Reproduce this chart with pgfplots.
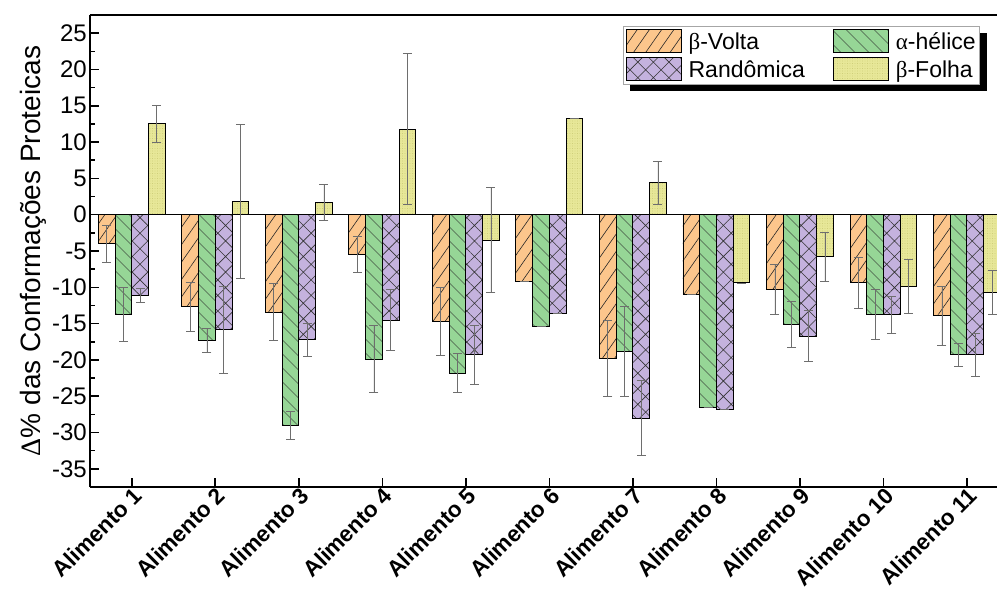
\documentclass[border=0pt]{standalone}
\usepackage{fontspec}
\setmainfont{Liberation Sans}
\newfontfamily\grk{Liberation Serif}
\usepackage{pgfplots}
\pgfplotsset{compat=1.18}
\usepackage{pgfplotstable}
\usetikzlibrary{patterns.meta,backgrounds}

\definecolor{cO}{RGB}{252,198,140}
\definecolor{cG}{RGB}{150,214,150}
\definecolor{cP}{RGB}{196,178,222}
\definecolor{cY}{RGB}{231,231,152}
\definecolor{cYd}{RGB}{195,195,105}
\definecolor{cErr}{RGB}{110,110,110}

\pgfplotstableread{
x y e
1 -4.0 2.6
2 -12.7 3.4
3 -13.4 3.9
4 -5.5 2.5
5 -14.7 4.7
6 -9.2 0
7 -19.8 5.2
8 -11.0 0
9 -10.3 3.4
10 -9.4 3.5
11 -13.9 4.1
}\volta
\pgfplotstableread{
x y e
1 -13.7 3.7
2 -17.3 1.6
3 -29.0 1.9
4 -19.9 4.6
5 -21.8 2.7
6 -15.4 0
7 -18.8 6.2
8 -26.5 0
9 -15.1 3.2
10 -13.7 3.4
11 -19.3 1.6
}\helice
\pgfplotstableread{
x y e
1 -11.1 1.0
2 -15.8 6.0
3 -17.2 2.3
4 -14.5 4.2
5 -19.3 4.1
6 -13.6 0
7 -28.0 5.2
8 -26.8 0
9 -16.7 3.5
10 -13.8 2.6
11 -19.3 3.0
}\rand
\pgfplotstableread{
x y e
1 12.5 2.6
2 1.8 10.6
3 1.7 2.5
4 11.8 10.4
5 -3.5 7.2
6 13.3 0
7 4.4 3.0
8 -9.4 0
9 -5.8 3.4
10 -9.9 3.7
11 -10.7 3.0
}\folha

\begin{document}
\begin{tikzpicture}
\begin{axis}[name=ax,
  scale only axis, width=907pt, height=472pt,
  xmin=0.5, xmax=11.36, ymin=-37.5, ymax=27.5,
  axis x line*=box, axis y line*=left,
  axis line style={line width=1.6pt},
  ybar=0pt, bar width=0.2,
  xtick={1,2,3,4,5,6,7,8,9,10,11},
  xticklabels={Alimento 1,Alimento 2,Alimento 3,Alimento 4,Alimento 5,Alimento 6,Alimento 7,Alimento 8,Alimento 9,Alimento 10,Alimento 11},
  xtick pos=left, ytick pos=left,
  ytick={-35,-30,...,25}, minor y tick num=1,
  tick align=inside,
  major tick length=9pt, minor tick length=5pt,
  every tick/.style={black, line width=1.6pt},
  /pgf/number format/assume math mode=true,
  yticklabel style={font=\fontsize{24}{27}\selectfont, inner xsep=3pt},
  xticklabel style={font=\fontsize{22.5}{25}\selectfont\bfseries, rotate=45, anchor=north east, inner sep=1pt, xshift=2pt, yshift=2pt},
  ylabel={{\grk Δ}\% das Conformações Proteicas},
  ylabel style={font=\fontsize{28}{32}\selectfont, at={(axis description cs:-0.063,0.5)}, anchor=center},
  extra y ticks={0}, extra y tick labels={},
  extra y tick style={grid=major, major grid style={black,line width=1.6pt}, major tick length=0pt},
  legend columns=2,
  legend cell align=left,
  legend image code/.code={\draw[#1] (0pt,-11pt) rectangle (55pt,12pt);},
  legend style={name=leg, at={(axis description cs:0.588,0.977)}, anchor=north west,
    draw=gray!70, line width=0.8pt, fill=white,
    font=\fontsize{23}{26}\selectfont,
    inner xsep=2pt, inner ysep=3pt, row sep=4pt,
    /tikz/every even column/.append style={column sep=26pt},
    /tikz/every odd column/.append style={column sep=5pt}},
  error bars/y dir=both, error bars/y explicit,
  error bars/error bar style={cErr, line width=0.7pt},
  error bars/error mark options={rotate=90, mark size=4.5pt, line width=0.7pt, cErr},
]
\addplot[draw=black, line width=0.9pt, fill=cO,
  postaction={pattern={Lines[angle=55,distance=10pt,line width=0.6pt]}, pattern color=black!85}]
  table[x=x,y=y,y error=e] {\volta};
\addplot[draw=black, line width=0.9pt, fill=cG,
  postaction={pattern={Lines[angle=-45,distance=10.5pt,line width=0.6pt]}, pattern color=black!85}]
  table[x=x,y=y,y error=e] {\helice};
\addplot[draw=black, line width=0.9pt, fill=cP,
  postaction={pattern={Hatch[angle=45,distance=11pt,line width=0.6pt]}, pattern color=black!80}]
  table[x=x,y=y,y error=e] {\rand};
\addplot[draw=black, line width=0.9pt, fill=cY,
  postaction={pattern={Dots[distance=2.5pt,radius=0.35pt]}, pattern color=cYd}]
  table[x=x,y=y,y error=e] {\folha};
\legend{{\grk β}-Volta,{\grk α}-hélice,Randômica,{\grk β}-Folha}
\end{axis}
\begin{scope}[on background layer]
\fill[black] ([shift={(7pt,-7pt)}]leg.south west) rectangle ([shift={(7pt,-7pt)}]leg.north east);
\end{scope}
\pgfresetboundingbox
\path[use as bounding box] ([xshift=-90pt,yshift=-104pt]ax.south west) rectangle ([yshift=15pt]ax.north east);
\end{tikzpicture}
\end{document}
